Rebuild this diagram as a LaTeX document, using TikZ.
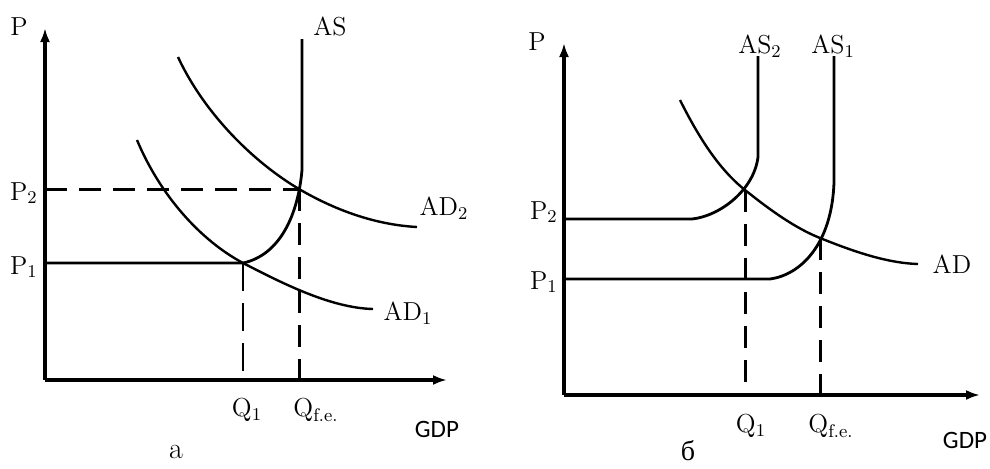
\documentclass[tikz,border=0pt]{standalone}
\usepackage{fontspec}
\usepackage{tikz}
\usetikzlibrary{arrows.meta}
\newfontfamily\gdpfont{Carlito}
\newfontfamily\cyrfont{Liberation Serif}

\tikzset{
  lbl/.style={font=\fontsize{13}{15}\selectfont,inner sep=0pt},
  gdp/.style={font=\gdpfont\fontsize{12.5}{14}\selectfont,inner sep=0pt},
  panel/.style={font=\fontsize{15}{17}\selectfont,inner sep=0pt},
  axis/.style={line width=1.6pt,->},
  curve/.style={line width=1.2pt},
  guide/.style={line width=1.5pt,dash pattern=on 11pt off 6pt},
  thinguide/.style={line width=1.1pt,dash pattern=on 14pt off 6pt},
}

\begin{document}
\begin{tikzpicture}[x=0.5pt,y=-0.5pt,>={Latex[length=7pt,width=5pt]}]
\useasboundingbox (0,0) rectangle (990,468);

% panel a
\coordinate (oa) at (45,380);
\coordinate (ea1) at (243,263);
\coordinate (ea2) at (299,189);
\coordinate (p2a) at (45,189);
\draw[axis] (oa) -- (45,28);
\draw[axis] (oa) -- (447,380);
\draw[curve,line width=1.4pt] (302,39) -- (302,170) .. controls (298,215) and (280,255) .. (ea1) -- (45,263);
\draw[curve] (178,57) .. controls (205,115) and (255,163) .. (ea2) .. controls (340,213) and (380,225) .. (417,227);
\draw[curve] (137,140) .. controls (160,195) and (200,240) .. (ea1) .. controls (280,282) and (330,308) .. (373,309);
\draw[guide] (p2a) -- (ea2);
\draw[guide] (ea2) -- (ea2 |- oa);
\draw[thinguide] (ea1) -- (ea1 |- oa);
\node[lbl] (pa) at (19,27) {P};
\node[lbl] (asa) at (330,26) {AS};
\node[lbl] (ad2a) at (444,208) {AD$_2$};
\node[lbl] (ad1a) at (408,313) {AD$_1$};
\node[lbl,anchor=east] (p2la) at (38,193) {P$_2$};
\node[lbl,anchor=east] (p1la) at (38,267) {P$_1$};
\node[lbl] (q1a) at (247,410) {Q$_1$};
\node[lbl] (qfa) at (316,410) {Q$_{\mathrm{f.e.}}$};
\node[gdp] (gdpa) at (437,429) {GDP};
\node[panel] (capa) at (176,452) {a};

% panel b
\coordinate (ob) at (564,395);
\coordinate (eb2) at (745,190);
\coordinate (eb1) at (820,238);
\draw[axis] (ob) -- (564,43);
\draw[axis] (ob) -- (980,395);
\draw[curve,line width=1.4pt] (758,56) -- (758,157) .. controls (754,190) and (720,216) .. (692,219) -- (564,219);
\draw[curve,line width=1.4pt] (834,56) -- (834,182) .. controls (832,245) and (800,275) .. (770,279) -- (564,279);
\draw[curve] (680,100) .. controls (700,140) and (720,170) .. (eb2) .. controls (770,210) and (795,228) .. (eb1) .. controls (850,250) and (885,263) .. (918,264);
\draw[guide] (eb2) -- (eb2 |- ob);
\draw[guide] (eb1) -- (eb1 |- ob);
\node[lbl] (pb) at (537,42) {P};
\node[lbl] (as2b) at (760,46) {AS$_2$};
\node[lbl] (as1b) at (833,46) {AS$_1$};
\node[lbl] (adb) at (952,264) {AD};
\node[lbl,anchor=east] (p2lb) at (558,212) {P$_2$};
\node[lbl,anchor=east] (p1lb) at (558,282) {P$_1$};
\node[lbl] (q1b) at (751,426) {Q$_1$};
\node[lbl] (qfb) at (831,426) {Q$_{\mathrm{f.e.}}$};
\node[gdp] (gdpb) at (965,440) {GDP};
\node[panel,font=\fontsize{14}{16}\selectfont] (capb) at (688,451) {\cyrfont б};
\end{tikzpicture}
\end{document}
